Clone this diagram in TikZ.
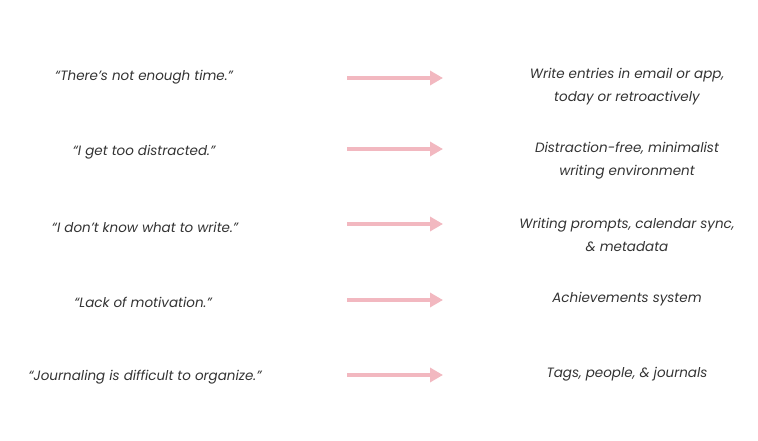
\documentclass[tikz,border=0pt]{standalone}
\usepackage{fontspec}
\setmainfont{Poppins}
\usetikzlibrary{arrows.meta}

\definecolor{quotegray}{HTML}{333333}
\definecolor{arrowpink}{HTML}{F2B8C0}

\tikzset{
  quote/.style={text=quotegray, font=\fontsize{13.5}{23}\selectfont\itshape, align=center, inner sep=0pt},
  fix/.style={text=quotegray, font=\fontsize{13.5}{23}\selectfont\itshape, align=center, inner sep=0pt},
  maps/.style={draw=arrowpink, line width=4pt, -{Triangle[length=13pt, width=14pt]}}
}

\begin{document}
\begin{tikzpicture}[x=1pt, y=-1pt]
	\path[use as bounding box] (0,0) rectangle (758,441);
	
	% Complaints
	\node[quote] (time) at (144,77) {``There's not enough time.''};
	\node[quote] (focus) at (144,152) {``I get too distracted.''};
	\node[quote] (topic) at (145,227) {``I don't know what to write.''};
	\node[quote] (drive) at (143,302) {``Lack of motivation.''};
	\node[quote] (order) at (145,377) {``Journaling is difficult to organize.''};
	
	% Answers
	\node[fix] (entries) at (627,87) {Write entries in email or app,\\ today or retroactively};
	\node[fix] (editor) at (627,161) {Distraction-free, minimalist\\ writing environment};
	\node[fix] (prompts) at (627,235) {Writing prompts, calendar sync,\\ \& metadata};
	\node[fix] (badges) at (627,299) {Achievements system};
	\node[fix] (tags) at (627,374) {Tags, people, \& journals};
	
	% Arrows
	\coordinate (a1) at (347,78);  \coordinate (b1) at (443,78);
	\coordinate (a2) at (347,149); \coordinate (b2) at (443,149);
	\coordinate (a3) at (347,224); \coordinate (b3) at (443,224);
	\coordinate (a4) at (347,300); \coordinate (b4) at (443,300);
	\coordinate (a5) at (347,375); \coordinate (b5) at (443,375);
	\draw[maps] (a1) -- (b1);
	\draw[maps] (a2) -- (b2);
	\draw[maps] (a3) -- (b3);
	\draw[maps] (a4) -- (b4);
	\draw[maps] (a5) -- (b5);
\end{tikzpicture}
\end{document}
